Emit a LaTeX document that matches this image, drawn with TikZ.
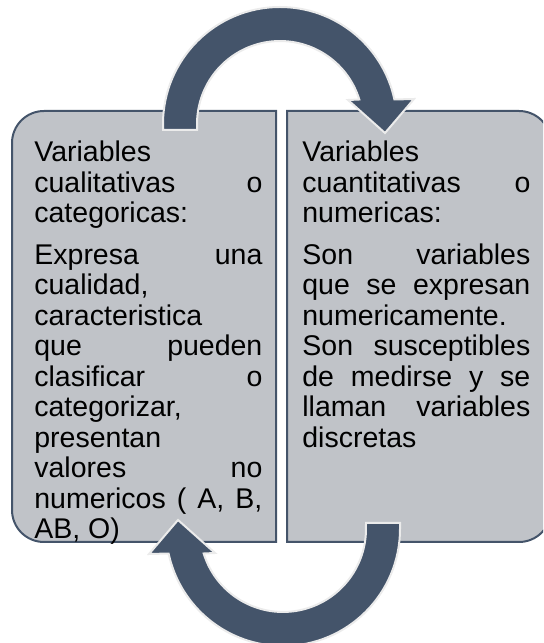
\documentclass[tikz,border=0pt]{standalone}
\usepackage{fontspec}
\setmainfont{Liberation Sans}

\definecolor{slate}{HTML}{44546A}
\definecolor{panel}{RGB}{192,195,200}

\tikzset{
  panelbox/.style={fill=panel, draw=slate, line width=1pt},
  cyclearrow/.style={fill=slate, draw=black!8, line width=1pt},
  paneltext/.style={anchor=base west, inner sep=0pt, font=\fontsize{14.25pt}{15.25pt}\selectfont}
}
\newcommand{\coltext}[1]{\parbox[t]{114pt}{\hyphenpenalty=10000\exhyphenpenalty=10000\hbadness=10000 #1}}

\begin{document}
\begin{tikzpicture}[x=0.5pt,y=0.5pt]
    \useasboundingbox (0,0) rectangle (543,643);
    \clip (0,0) rectangle (543,643);

    % Left panel, rounded on the left
    \draw[panelbox] (276,101) -- (276,532) -- (44,532) arc[start angle=90,end angle=180,radius=16pt]
        -- (12,133) arc[start angle=180,end angle=270,radius=16pt] -- cycle;
    % Right panel, rounded on the right (cut by the page edge)
    \draw[panelbox] (287,101) -- (287,532) -- (519,532) arc[start angle=90,end angle=0,radius=16pt]
        -- (551,133) arc[start angle=0,end angle=-90,radius=16pt] -- cycle;

    % Texts
    \node[paneltext] (cualit) at (34,481) {\coltext{%
        Variables\linebreak cualitativas~o\linebreak categoricas:\par\vspace{5.5pt}
        Expresa~una\linebreak cualidad,\linebreak caracteristica\linebreak que~pueden\linebreak
        clasificar~o\linebreak categorizar,\linebreak presentan\linebreak valores~no\linebreak
        numericos~(~A,~B,\linebreak AB,~O)}};
    \node[paneltext] (cuanti) at (302,481) {\coltext{%
        Variables\linebreak cuantitativas~o\linebreak numericas:\par\vspace{5.5pt}
        Son~variables\linebreak que~se~expresan\linebreak numericamente.\linebreak
        Son~susceptibles\linebreak de~medirse~y~se\linebreak llaman~variables\linebreak discretas}};

    % Circular arrows
    \foreach \cx/\cy/\rot in {280/519/0, 283/114/180} {
        \begin{scope}[shift={(\cx,\cy)}, rotate=\rot]
            \draw[cyclearrow] (-117,-6) -- (-117,0) arc[start angle=180,end angle=12.1,radius=58.5pt]
                -- (134,25) -- (105,-9) -- (68,24) -- (79.3,24.5)
                arc[start angle=17.2,end angle=180,radius=41.5pt] -- (-83,-6) -- cycle;
        \end{scope}
    }
\end{tikzpicture}
\end{document}
